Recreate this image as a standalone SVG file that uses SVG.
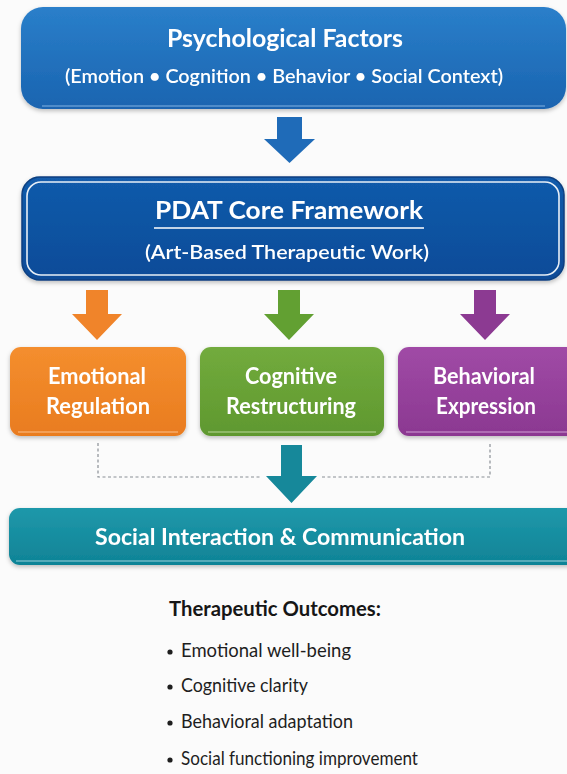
<svg xmlns="http://www.w3.org/2000/svg" width="567" height="774" viewBox="0 0 567 774">
  <style>
    .t { font-family: Lato, "Open Sans", "Liberation Sans", sans-serif; fill: #ffffff; font-weight: 700; }
    .title { font-size: 24px; }
    .sub { font-size: 20px; font-weight: 600; }
    .lbl { font-size: 22px; }
    .soc { font-size: 23px; }
    .list { font-family: Lato, "Open Sans", "Liberation Sans", sans-serif; fill: #1e1e1e; font-size: 19px; }
    .head { font-weight: 700; font-size: 20px; fill: #161616; }
    .dot { fill: #1e1e1e; }
    .dash { fill: none; stroke: #8a8f96; stroke-width: 1.2; stroke-dasharray: 3 2.5; }
    .lip { fill: none; stroke-opacity: 0.55; stroke-width: 1.5; }
  </style>
  <defs>
    <linearGradient id="gBlue" x1="0" y1="0" x2="0" y2="1">
      <stop offset="0" stop-color="#2a7fca"/>
      <stop offset="1" stop-color="#1a64b0"/>
    </linearGradient>
    <linearGradient id="gNavy" x1="0" y1="0" x2="0" y2="1">
      <stop offset="0" stop-color="#125bab"/>
      <stop offset="1" stop-color="#0a4b98"/>
    </linearGradient>
    <linearGradient id="gOrange" x1="0" y1="0" x2="0" y2="1">
      <stop offset="0" stop-color="#f48e2e"/>
      <stop offset="1" stop-color="#e97c1f"/>
    </linearGradient>
    <linearGradient id="gGreen" x1="0" y1="0" x2="0" y2="1">
      <stop offset="0" stop-color="#72ab3d"/>
      <stop offset="1" stop-color="#5f982f"/>
    </linearGradient>
    <linearGradient id="gPurple" x1="0" y1="0" x2="0" y2="1">
      <stop offset="0" stop-color="#a04aa6"/>
      <stop offset="1" stop-color="#8b3891"/>
    </linearGradient>
    <linearGradient id="gTeal" x1="0" y1="0" x2="0" y2="1">
      <stop offset="0" stop-color="#1f98aa"/>
      <stop offset="1" stop-color="#0f8396"/>
    </linearGradient>
    <filter id="shadow" x="-10%" y="-20%" width="120%" height="150%">
      <feDropShadow dx="0" dy="2" stdDeviation="2" flood-color="#000" flood-opacity="0.25"/>
    </filter>
  </defs>

  <rect width="567" height="774" fill="#fbfbfb"/>

  <!-- connectors -->
  <g id="connectors">
    <path class="dash" d="M98 443 V477 H262"/>
    <path class="dash" d="M322 477 H490 V443"/>
    <path id="arrow-top" d="M277 117 H302 V139 H315 L289.5 163 L264 139 H277 Z" fill="#1f6bb8"/>
    <path id="arrow-orange" d="M86 290 H108 V314 H122 L97 340 L72 314 H86 Z" fill="#f0842a"/>
    <path id="arrow-green" d="M278 290 H300 V314 H314 L289 340 L264 314 H278 Z" fill="#62a032"/>
    <path id="arrow-purple" d="M474 290 H496 V314 H510 L485 340 L460 314 H474 Z" fill="#8c3a92"/>
    <path id="arrow-teal" d="M281 445 H302 V476 H317 L291.5 503 L266 476 H281 Z" fill="#16889a"/>
  </g>

  <!-- Psychological Factors -->
  <g id="psych-factors" filter="url(#shadow)">
    <rect x="21" y="7" width="545" height="102" rx="22" fill="url(#gBlue)"/>
    <path class="lip" stroke="#9cc6ee" d="M42 106 H545"/>
    <text class="t title" x="167" y="47" textLength="236" lengthAdjust="spacingAndGlyphs">Psychological Factors</text>
    <text class="t sub" x="65" y="83" textLength="438" lengthAdjust="spacingAndGlyphs">(Emotion • Cognition • Behavior • Social Context)</text>
  </g>

  <!-- PDAT Core Framework -->
  <g id="pdat-core" filter="url(#shadow)">
    <rect x="22" y="177" width="542" height="103" rx="18" fill="url(#gNavy)" stroke="#0a3f80" stroke-width="1.5"/>
    <rect x="27" y="182" width="532" height="93" rx="14" fill="none" stroke="#ffffff" stroke-width="1.6" stroke-opacity="0.9"/>
    <text class="t title" x="155" y="219" textLength="268" lengthAdjust="spacingAndGlyphs">PDAT Core Framework</text>
    <line x1="154" y1="228" x2="424" y2="228" stroke="#ffffff" stroke-width="1.5"/>
    <text class="t sub" x="145" y="259" textLength="284" lengthAdjust="spacingAndGlyphs">(Art-Based Therapeutic Work)</text>
  </g>

  <!-- Emotional Regulation -->
  <g id="emotional-regulation" filter="url(#shadow)">
    <rect x="10" y="347" width="176" height="89" rx="11" fill="url(#gOrange)"/>
    <path class="lip" stroke="#ffd2a6" d="M18 432 H178"/>
    <text class="t lbl" x="48" y="384" textLength="98" lengthAdjust="spacingAndGlyphs">Emotional</text>
    <text class="t lbl" x="46" y="414" textLength="104" lengthAdjust="spacingAndGlyphs">Regulation</text>
  </g>

  <!-- Cognitive Restructuring -->
  <g id="cognitive-restructuring" filter="url(#shadow)">
    <rect x="200" y="347" width="184" height="89" rx="11" fill="url(#gGreen)"/>
    <path class="lip" stroke="#cfe8b4" d="M208 432 H376"/>
    <text class="t lbl" x="245" y="384" textLength="92" lengthAdjust="spacingAndGlyphs">Cognitive</text>
    <text class="t lbl" x="226" y="414" textLength="130" lengthAdjust="spacingAndGlyphs">Restructuring</text>
  </g>

  <!-- Behavioral Expression -->
  <g id="behavioral-expression" filter="url(#shadow)">
    <rect x="398" y="347" width="180" height="89" rx="11" fill="url(#gPurple)"/>
    <path class="lip" stroke="#e2b6e6" d="M406 432 H567"/>
    <text class="t lbl" x="433" y="384" textLength="102" lengthAdjust="spacingAndGlyphs">Behavioral</text>
    <text class="t lbl" x="436" y="414" textLength="100" lengthAdjust="spacingAndGlyphs">Expression</text>
  </g>

  <!-- Social Interaction & Communication -->
  <g id="social-interaction" filter="url(#shadow)">
    <rect x="9" y="508" width="570" height="57" rx="11" fill="url(#gTeal)"/>
    <path class="lip" stroke="#b6e3ea" d="M16 561 H567"/>
    <text class="t soc" x="95" y="545" textLength="370" lengthAdjust="spacingAndGlyphs">Social Interaction &amp; Communication</text>
  </g>

  <!-- Therapeutic Outcomes -->
  <g id="outcomes">
    <text class="list head" x="169" y="616" textLength="212" lengthAdjust="spacingAndGlyphs">Therapeutic Outcomes:</text>
    <circle class="dot" cx="170" cy="652" r="2.6"/>
    <text class="list" x="181" y="657" textLength="170" lengthAdjust="spacingAndGlyphs">Emotional well-being</text>
    <circle class="dot" cx="170" cy="687" r="2.6"/>
    <text class="list" x="181" y="692" textLength="127" lengthAdjust="spacingAndGlyphs">Cognitive clarity</text>
    <circle class="dot" cx="170" cy="723" r="2.6"/>
    <text class="list" x="181" y="728" textLength="172" lengthAdjust="spacingAndGlyphs">Behavioral adaptation</text>
    <circle class="dot" cx="170" cy="760" r="2.6"/>
    <text class="list" x="181" y="765" textLength="237" lengthAdjust="spacingAndGlyphs">Social functioning improvement</text>
  </g>
</svg>
